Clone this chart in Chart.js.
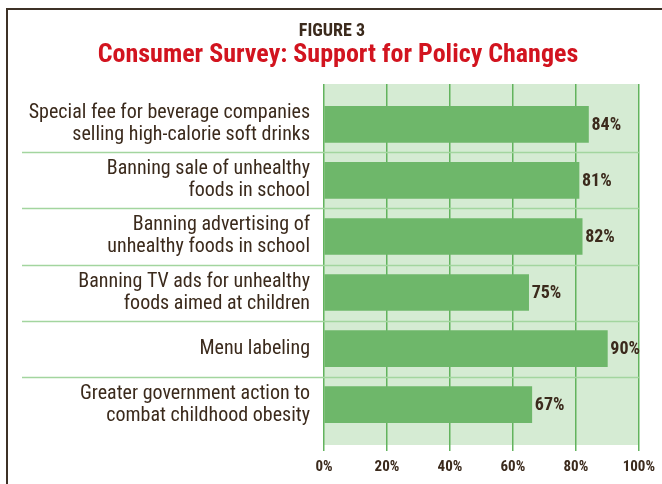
<!DOCTYPE html>
<html>
<head>
<meta charset="utf-8">
<script src="https://cdn.jsdelivr.net/npm/chart.js@4.4.1/dist/chart.umd.min.js"></script>
<style>
  html, body { margin:0; padding:0; background:#fff; }
  #wrap { position:relative; width:662px; height:484px; overflow:hidden; }
  #frame { position:absolute; left:6px; top:8px; width:700px; height:500px; border-left:2px solid #3d3126; border-top:2px solid #3d3126; }
  #chart { position:absolute; left:0; top:0; }
</style>
</head>
<body>
<div id="wrap">
  <div id="frame"></div>
  <canvas id="chart" width="662" height="484"></canvas>
</div>
<script>
// ---------- Daten ----------
const categories = [
  ['Special fee for beverage companies', 'selling high-calorie soft drinks'],
  ['Banning sale of unhealthy', 'foods in school'],
  ['Banning advertising of', 'unhealthy foods in school'],
  ['Banning TV ads for unhealthy', 'foods aimed at children'],
  ['Menu labeling'],
  ['Greater government action to', 'combat childhood obesity']
];
// bar lengths as drawn in the figure (the 75% bar is drawn shorter than its label)
const barValues = [84, 81, 82, 65, 90, 66];
const valueLabels = ['84%', '81%', '82%', '75%', '90%', '67%'];
const xTicks = [0, 20, 40, 60, 80, 100];
const figureLabel = 'FIGURE 3';
const chartTitle = 'Consumer Survey: Support for Policy Changes';

const FONT = "'Roboto Condensed', Roboto, sans-serif";
const BROWN = '#3b2a1c';

// Hintergrund der Zeichenfläche
const plotBg = {
  id: 'plotBg',
  beforeDraw(chart){
    const {ctx, chartArea:a} = chart;
    ctx.save(); ctx.fillStyle = '#d5ebd3'; ctx.fillRect(a.left, a.top, a.right - a.left, a.bottom - a.top); ctx.restore();
  }
};

// Trennlinien zwischen den Kategorien
const separators = {
  id: 'separators',
  beforeDatasetsDraw(chart){
    const {ctx, chartArea:a, scales} = chart;
    ctx.save(); ctx.strokeStyle = '#a3d59f'; ctx.lineWidth = 1.5;
    for(let i=0;i<categories.length-1;i++){
      const y = Math.round(scales.y.getPixelForValue(i + 0.5)) + 0.5;
      ctx.beginPath(); ctx.moveTo(22, y); ctx.lineTo(a.right, y); ctx.stroke();
    }
    ctx.restore();
  }
};

// Wertbeschriftungen + Überschriften
const labels = {
  id: 'labels',
  afterDatasetsDraw(chart){
    const ctx = chart.ctx; const meta = chart.getDatasetMeta(0);
    ctx.save(); ctx.fillStyle = BROWN; ctx.font = 'bold 18px ' + FONT; ctx.textAlign = 'left'; ctx.textBaseline = 'middle';
    meta.data.forEach((bar, i) => ctx.fillText(valueLabels[i], bar.x + 3, bar.y + 1));
    ctx.restore();
  },
  afterDraw(chart){
    const ctx = chart.ctx;
    ctx.save(); ctx.textAlign = 'center'; ctx.textBaseline = 'middle';
    ctx.fillStyle = BROWN; ctx.font = 'bold 18px ' + FONT; ctx.fillText(figureLabel, 332, 31);
    ctx.fillStyle = '#d2141f'; ctx.font = 'bold 26px ' + FONT; ctx.fillText(chartTitle, 338, 55);
    ctx.restore();
  }
};

new Chart(document.getElementById('chart'), {
  type: 'bar',
  data: {
    datasets: [{
      data: barValues.map((v, i) => ({x: v, y: i})),
      backgroundColor: '#6eb76a',
      borderWidth: 0,
      barThickness: 36
    }]
  },
  options: {
    indexAxis: 'y',
    responsive: false,
    animation: false,
    devicePixelRatio: 1,
    layout: { padding: { top: 84, right: 22, bottom: 1, left: 0 } },
    plugins: { legend: { display: false }, tooltip: { enabled: false }, title: { display: false } },
    scales: {
      x: {
        type: 'linear', min: 0, max: 100,
        afterBuildTicks: s => { s.ticks = xTicks.map(v => ({value: v})); },
        grid: { color: '#62b35d', lineWidth: 1.5, tickLength: 6 },
        border: { display: false },
        ticks: { color: BROWN, padding: 7, font: { family: FONT, size: 15, weight: 'bold', lineHeight: 1.2 }, callback: v => v + '%' }
      },
      y: {
        type: 'linear', reverse: true, min: -0.72, max: 5.72, offset: false,
        afterBuildTicks: s => { s.ticks = categories.map((c, i) => ({value: i})); },
        afterFit: s => { s.width = 324; },
        grid: { display: false, offset: false, drawTicks: false },
        border: { display: false },
        ticks: { color: BROWN, padding: 14, font: { family: FONT, size: 20, lineHeight: 1.1 }, callback: v => categories[v] || '' }
      }
    }
  },
  plugins: [plotBg, separators, labels]
});
</script>
</body>
</html>
